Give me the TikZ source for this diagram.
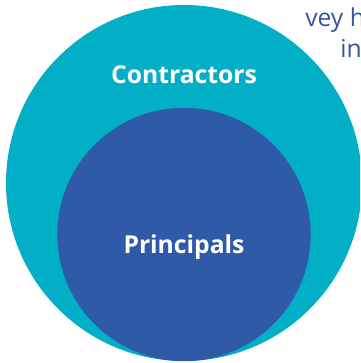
\documentclass[tikz,border=0pt]{standalone}
\usepackage{fontspec}
\setmainfont{Open Sans}
\usetikzlibrary{positioning}
\definecolor{teal}{HTML}{03AFC6}
\definecolor{deepblue}{HTML}{2F5AA8}
\definecolor{textblue}{HTML}{3455A6}
\tikzset{
  outercirc/.style={circle, fill=teal, inner sep=0pt, outer sep=0pt, minimum size=267pt},
  innercirc/.style={circle, fill=deepblue, inner sep=0pt, outer sep=0pt, minimum size=190pt},
  circlabel/.style={text=white, font=\fontsize{18.5}{22}\selectfont\bfseries},
  sidetext/.style={text=textblue, font=\fontsize{18.5}{22}\selectfont, anchor=base west, inner sep=0pt}
}
\begin{document}
\begin{tikzpicture}[x=0.75pt, y=-0.75pt]
\clip (0,0) rectangle (360,363);
\node[sidetext](surveytext) at (305,27){vey h};
\node[sidetext](intext) at (340,58){in};
\node[outercirc](contractors) at (184,183){};
\node[innercirc](principals) at (184,234.5){};
\node[circlabel](contractorslabel) at (184,75){Contractors};
\node[circlabel](principalslabel) at (184,247){Principals};
\end{tikzpicture}
\end{document}
